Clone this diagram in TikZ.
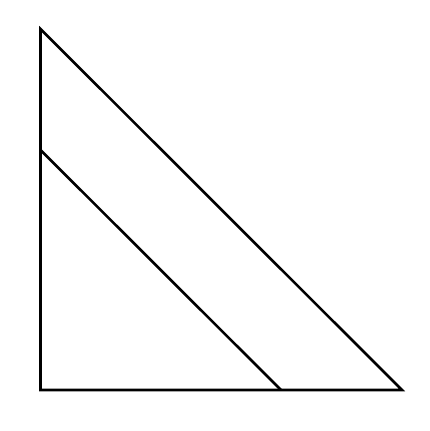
\documentclass[tikz,border=0pt]{standalone}
\begin{document}
\begin{tikzpicture}[x=1pt,y=1pt,edge/.style={line width=2.6pt,line join=miter,line cap=butt}]
\useasboundingbox (0,0) rectangle (430,431);
\coordinate (A) at (40.5,402);
\coordinate (B) at (40.5,41);
\coordinate (C) at (402,41);
\coordinate (D) at (40.5,281);
\coordinate (E) at (281,41);
\draw[edge] (A) -- (B) -- (C) -- cycle;
\draw[edge] (D) -- (E);
\end{tikzpicture}
\end{document}
